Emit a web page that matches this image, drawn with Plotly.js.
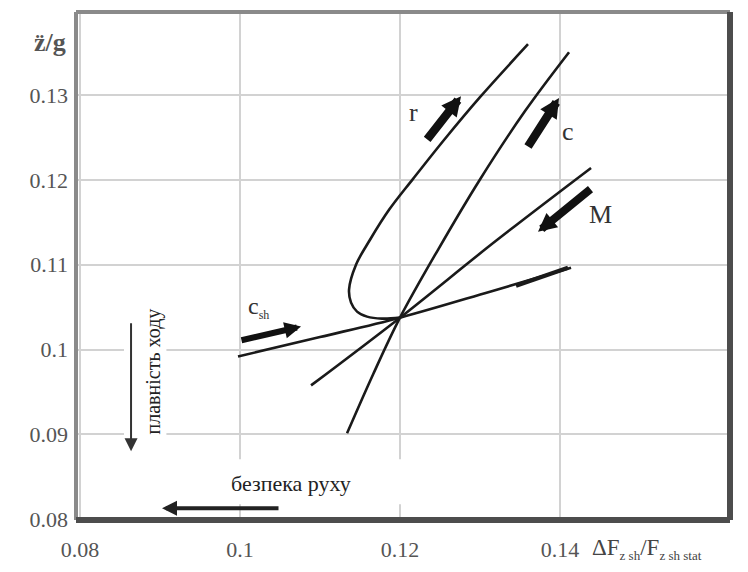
<!DOCTYPE html>
<html>
<head>
<meta charset="utf-8">
<script src="https://cdn.plot.ly/plotly-3.0.1.min.js"></script>
<style>html,body{margin:0;padding:0;background:#fff;}#chart{width:748px;height:572px;}</style>
</head>
<body>
<div id="chart"></div>
<script>
// ---- data ----
const xTicks = [0.08, 0.10, 0.12, 0.14];
const xTickText = ["0.08", "0.1", "0.12", "0.14"];
const yTicks = [0.08, 0.09, 0.10, 0.11, 0.12, 0.13];
const yTickText = ["0.08", "0.09", "0.1", "0.11", "0.12", "0.13"];

// curve "c"
const cX = [0.11338, 0.11663, 0.12000, 0.12475, 0.12988, 0.13563, 0.14113];
const cY = [0.09012, 0.09706, 0.10376, 0.11176, 0.11988, 0.12812, 0.13506];
// curve "r" (loop)
const rX = [0.13600, 0.13000, 0.12550, 0.12163, 0.11863, 0.11625, 0.11450, 0.11363, 0.11388, 0.11463, 0.11588, 0.11775, 0.12000];
const rY = [0.13600, 0.12976, 0.12471, 0.12012, 0.11647, 0.11294, 0.11000, 0.10706, 0.10553, 0.10447, 0.10388, 0.10365, 0.10376];
// curve "M"
const mX = [0.10888, 0.12000, 0.13200, 0.14388];
const mY = [0.09577, 0.10376, 0.11282, 0.12141];
// curve "c_sh"
const cshX = [0.09975, 0.11000, 0.12000, 0.13125, 0.14138];
const cshY = [0.09918, 0.10147, 0.10376, 0.10682, 0.10965];
// thick end of the c_sh line
const cshEndX = [0.13450, 0.14100];
const cshEndY = [0.10753, 0.10965];

const lineStyle = {color: "#1a1a1a", width: 2.6, shape: "spline", smoothing: 1.0};
const traces = [
  {x: cX, y: cY, mode: "lines", line: lineStyle, hoverinfo: "skip"},
  {x: rX, y: rY, mode: "lines", line: lineStyle, hoverinfo: "skip"},
  {x: mX, y: mY, mode: "lines", line: lineStyle, hoverinfo: "skip"},
  {x: cshX, y: cshY, mode: "lines", line: lineStyle, hoverinfo: "skip"},
  {x: cshEndX, y: cshEndY, mode: "lines", line: {color: "#1a1a1a", width: 4.2}, hoverinfo: "skip"}
];

const serif = "Liberation Serif, Times New Roman, serif";
function arrow(x0, y0, x1, y1, w, size, color) {
  return {x: x1, y: y1, ax: x0, ay: y0, xref: "x", yref: "y", axref: "x", ayref: "y",
    text: "", showarrow: true, arrowhead: 2, arrowwidth: w, arrowsize: size,
    arrowcolor: color || "#111", standoff: 0, startstandoff: 0};
}
function label(x, y, text, size, color, extra) {
  return Object.assign({x: x, y: y, xref: "x", yref: "y", text: text, showarrow: false,
    font: {family: serif, size: size, color: color || "#333"}}, extra || {});
}

const annotations = [
  arrow(0.12325, 0.12459, 0.12763, 0.12988, 8.5, 0.46),
  arrow(0.13588, 0.12376, 0.13988, 0.12965, 8.5, 0.46),
  arrow(0.14400, 0.11906, 0.13725, 0.11388, 8, 0.46),
  arrow(0.10000, 0.10106, 0.10763, 0.10271, 6, 0.55),
  arrow(0.08638, 0.10329, 0.08638, 0.08800, 2, 1.3, "#333"),
  arrow(0.10500, 0.08129, 0.09025, 0.08129, 4, 0.75, "#222"),
  label(0.121625, 0.12800, "r", 26),
  label(0.14100, 0.12570, "c", 26),
  label(0.14500, 0.11590, "M", 26),
  label(0.10075, 0.10494, "c<sub><span style='font-size:12px'>sh</span></sub>", 24, "#333", {xanchor: "left"}),
  label(0.089125, 0.097412, "плавність ходу", 20, "#222", {textangle: -90}),
  label(0.106375, 0.08420, "безпека руху", 22, "#222"),
  {xref: "paper", yref: "paper", x: -0.0122, y: 0.972, xanchor: "right", text: "<b>z̈/g</b>", showarrow: false,
    font: {family: serif, size: 26, color: "#555"}},
  {xref: "paper", yref: "paper", x: 0.786, y: -0.088, xanchor: "left",
    text: "ΔF<sub><span style='font-size:13px'>z sh</span></sub>/F<sub><span style='font-size:13px'>z sh stat</span></sub>",
    showarrow: false, font: {family: serif, size: 23, color: "#444"}}
];

const shapes = [
  // white patches behind the arrow labels
  {type: "rect", xref: "x", yref: "y", x0: 0.09000, x1: 0.12060, y0: 0.08706, y1: 0.08176,
    fillcolor: "#fff", line: {width: 0}, layer: "between"},
  {type: "rect", xref: "x", yref: "y", x0: 0.08550, x1: 0.09080, y0: 0.08950, y1: 0.10600,
    fillcolor: "#fff", line: {width: 0}, layer: "between"},
  // frame
  {type: "line", xref: "paper", yref: "paper", x0: 0, x1: 0, y0: 0, y1: 1, line: {color: "#8a8a8a", width: 4}},
  {type: "line", xref: "paper", yref: "paper", x0: 0, x1: 1, y0: 1, y1: 1, line: {color: "#8a8a8a", width: 4}},
  {type: "line", xref: "paper", yref: "paper", x0: 1, x1: 1, y0: 0, y1: 1, line: {color: "#4d4d4d", width: 6}},
  {type: "line", xref: "paper", yref: "paper", x0: 0, x1: 1, y0: 0, y1: 0, line: {color: "#4d4d4d", width: 6}}
];

const layout = {
  width: 748, height: 572,
  margin: {l: 76, r: 18, t: 12, b: 52, pad: 0},
  paper_bgcolor: "#fff", plot_bgcolor: "#fff",
  showlegend: false,
  xaxis: {range: [0.0795, 0.16125], tickvals: xTicks, ticktext: xTickText,
    showgrid: true, gridcolor: "#d2d2d2", gridwidth: 2, zeroline: false, showline: false,
    ticks: "", ticklabelstandoff: 14,
    tickfont: {family: serif, size: 22, color: "#555"}},
  yaxis: {range: [0.0799, 0.1398], tickvals: yTicks, ticktext: yTickText,
    showgrid: true, gridcolor: "#d2d2d2", gridwidth: 2, zeroline: false, showline: false,
    ticks: "", ticklabelstandoff: 7,
    tickfont: {family: serif, size: 22, color: "#555"}},
  annotations: annotations,
  shapes: shapes
};

Plotly.newPlot("chart", traces, layout, {staticPlot: true, displayModeBar: false});
</script>
</body>
</html>
